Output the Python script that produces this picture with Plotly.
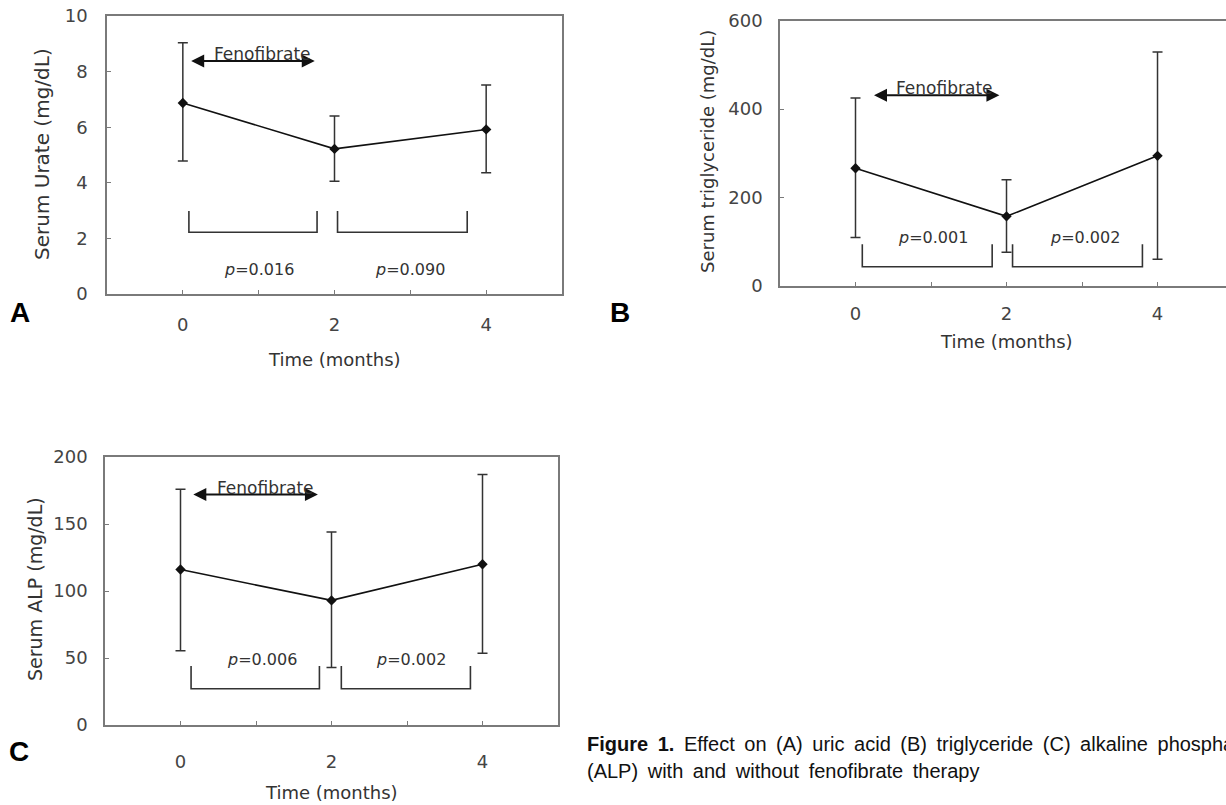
import plotly.graph_objects as go

# ---------------- data ----------------
months = [0, 2, 4]
tick_vals = [0, 1, 2, 3, 4]
tick_text = ["0", "", "2", "", "4"]

urate_mean = [6.87, 5.22, 5.92]
urate_hi = [9.04, 6.40, 7.52]
urate_lo = [4.78, 4.06, 4.36]

tg_mean = [266, 157, 294]
tg_hi = [425, 240, 529]
tg_lo = [109, 76, 60]

alp_mean = [116, 93, 120]
alp_hi = [176, 144, 187]
alp_lo = [55.5, 43, 53.5]

p_A = ["0.016", "0.090"]
p_B = ["0.001", "0.002"]
p_C = ["0.006", "0.002"]

urate_yticks = [0, 2, 4, 6, 8, 10]
tg_yticks = [0, 200, 400, 600]
alp_yticks = [0, 50, 100, 150, 200]

# ---------------- layout helpers ----------------
W, H = 1226, 805
def px(x): return x / W
def py(y): return 1 - y / H

TICK_FONT = dict(family="DejaVu Sans", size=18, color="#444")
TXT = "#333"
AX = "#7a7a7a"

fig = go.Figure()

panels = [
    dict(name="A", xa="x", ya="y", mean=urate_mean, hi=urate_hi, lo=urate_lo,
         xdom=[px(107), px(562)], ydom=[py(294), py(16)], xr=[-1, 5], yr=[0, 10],
         yticks=urate_yticks, mirror_y=True, xstand=14, ystand=14,
         arrow=(0.09, 1.74, 8.38), feno=(1.05, 8.38),
         brackets=[(0.08, 1.77), (2.04, 3.75)], br_y=(2.99, 2.22),
         p=p_A, p_pos=[(1.01, 0.89), (2.99, 0.89)],
         ytitle="Serum Urate (mg/dL)", ytitle_pos=(42, 154), ytitle_size=20,
         xtitle_pos=(334, 360), letter_pos=(20, 312)),
    dict(name="B", xa="x2", ya="y2", mean=tg_mean, hi=tg_hi, lo=tg_lo,
         xdom=[px(780), 1.0], ydom=[py(285.7), py(20.7)], xr=[-1, 4.907], yr=[0, 600],
         yticks=tg_yticks, mirror_y=False, xstand=11, ystand=12,
         arrow=(0.225, 1.906, 431), feno=(1.18, 431),
         brackets=[(0.09, 1.81), (2.08, 3.80)], br_y=(94, 43),
         p=p_B, p_pos=[(1.02, 110), (3.04, 110)],
         ytitle="Serum triglyceride (mg/dL)", ytitle_pos=(708, 152), ytitle_size=18,
         xtitle_pos=(1006, 342), letter_pos=(620, 312)),
    dict(name="C", xa="x3", ya="y3", mean=alp_mean, hi=alp_hi, lo=alp_lo,
         xdom=[px(105), px(558)], ydom=[py(725), py(457)], xr=[-1, 5], yr=[0, 200],
         yticks=alp_yticks, mirror_y=True, xstand=20, ystand=12,
         arrow=(0.15, 1.82, 172), feno=(1.12, 172),
         brackets=[(0.14, 1.84), (2.13, 3.84)], br_y=(44, 27),
         p=p_C, p_pos=[(1.08, 49), (3.05, 49)],
         ytitle="Serum ALP (mg/dL)", ytitle_pos=(35, 589), ytitle_size=19,
         xtitle_pos=(331, 792), letter_pos=(19, 751)),
]

for i, P in enumerate(panels):
    sfx = "" if i == 0 else str(i + 1)
    plus = [h - m for h, m in zip(P["hi"], P["mean"])]
    minus = [m - l for m, l in zip(P["mean"], P["lo"])]
    fig.add_trace(go.Scatter(
        x=months, y=P["mean"], xaxis=P["xa"], yaxis=P["ya"],
        mode="lines+markers",
        line=dict(color="#111", width=1.6),
        marker=dict(symbol="diamond", size=8, color="#111"),
        error_y=dict(type="data", symmetric=False, array=plus, arrayminus=minus,
                     color="#333", thickness=1.5, width=5),
        showlegend=False, hoverinfo="skip"))

    fig.update_layout(**{
        "xaxis" + sfx: dict(domain=P["xdom"], range=P["xr"], anchor=P["ya"],
                            tickvals=tick_vals, ticktext=tick_text, ticks="inside",
                            ticklen=4, tickcolor=AX, showline=True, linecolor=AX,
                            linewidth=1.5, mirror=True, showgrid=False, zeroline=False,
                            automargin=False,
                            tickfont=TICK_FONT, ticklabelstandoff=P["xstand"]),
        "yaxis" + sfx: dict(domain=P["ydom"], range=P["yr"], anchor=P["xa"],
                            tickvals=P["yticks"], ticks="inside", ticklen=4,
                            tickcolor=AX, showline=True, linecolor=AX, linewidth=1.5,
                            mirror=P["mirror_y"], showgrid=False, zeroline=False,
                            automargin=False,
                            tickfont=TICK_FONT, ticklabelstandoff=P["ystand"]),
    })

    # Fenofibrate double arrow
    ax0, ax1, ay = P["arrow"]
    fig.add_annotation(x=ax1, y=ay, ax=ax0, ay=ay, xref=P["xa"], yref=P["ya"],
                       axref=P["xa"], ayref=P["ya"], text="", showarrow=True,
                       arrowhead=2, startarrowhead=2, arrowside="end+start",
                       arrowsize=1.3, startarrowsize=1.3, arrowwidth=2, arrowcolor="#111")
    fig.add_annotation(x=P["feno"][0], y=P["feno"][1], xref=P["xa"], yref=P["ya"],
                       text="Fenofibrate", showarrow=False, xanchor="center",
                       yanchor="bottom", yshift=-5,
                       font=dict(family="DejaVu Sans", size=17, color=TXT))

    # brackets
    ytop, ybot = P["br_y"]
    for (b0, b1) in P["brackets"]:
        fig.add_shape(type="path", xref=P["xa"], yref=P["ya"],
                      path=f"M {b0},{ytop} L {b0},{ybot} L {b1},{ybot} L {b1},{ytop}",
                      line=dict(color="#333", width=1.6))
    for pv, (x, y) in zip(P["p"], P["p_pos"]):
        fig.add_annotation(x=x, y=y, xref=P["xa"], yref=P["ya"], showarrow=False,
                           xanchor="center", yanchor="middle",
                           text=f"<i>p</i>={pv}",
                           font=dict(family="DejaVu Sans", size=16, color=TXT))

    # axis titles
    tx, ty = P["ytitle_pos"]
    fig.add_annotation(x=px(tx), y=py(ty), xref="paper", yref="paper", showarrow=False,
                       text=P["ytitle"], textangle=-90, xanchor="center", yanchor="middle",
                       font=dict(family="DejaVu Sans", size=P["ytitle_size"], color=TXT))
    tx, ty = P["xtitle_pos"]
    fig.add_annotation(x=px(tx), y=py(ty), xref="paper", yref="paper", showarrow=False,
                       text="Time (months)", xanchor="center", yanchor="middle",
                       font=dict(family="DejaVu Sans", size=18, color=TXT))
    lx, ly = P["letter_pos"]
    fig.add_annotation(x=px(lx), y=py(ly), xref="paper", yref="paper", showarrow=False,
                       text=f"<b>{P['name']}</b>", xanchor="center", yanchor="middle",
                       font=dict(family="Liberation Sans", size=28, color="#000"))

# caption
sp = " \u2009"
line1 = "<b>Figure" + sp + "1.</b>" + sp + sp.join(
    "Effect on (A) uric acid (B) triglyceride (C) alkaline phosphatase".split(" "))
line2 = sp.join("(ALP) with and without fenofibrate therapy".split(" "))
fig.add_annotation(x=px(585), y=py(744), xref="paper", yref="paper", showarrow=False,
                   text=line1, xanchor="left", yanchor="middle",
                   font=dict(family="Liberation Sans", size=20, color="#111"))
fig.add_annotation(x=px(585), y=py(771), xref="paper", yref="paper", showarrow=False,
                   text=line2, xanchor="left", yanchor="middle",
                   font=dict(family="Liberation Sans", size=20, color="#111"))

fig.update_layout(width=W, height=H, margin=dict(l=0, r=0, t=0, b=0),
                  paper_bgcolor="white", plot_bgcolor="white", showlegend=False)

fig.write_html("out.html", config={"displayModeBar": False},
               post_script="document.body.style.margin='0px';"
                           "document.body.style.overflow='hidden';")
